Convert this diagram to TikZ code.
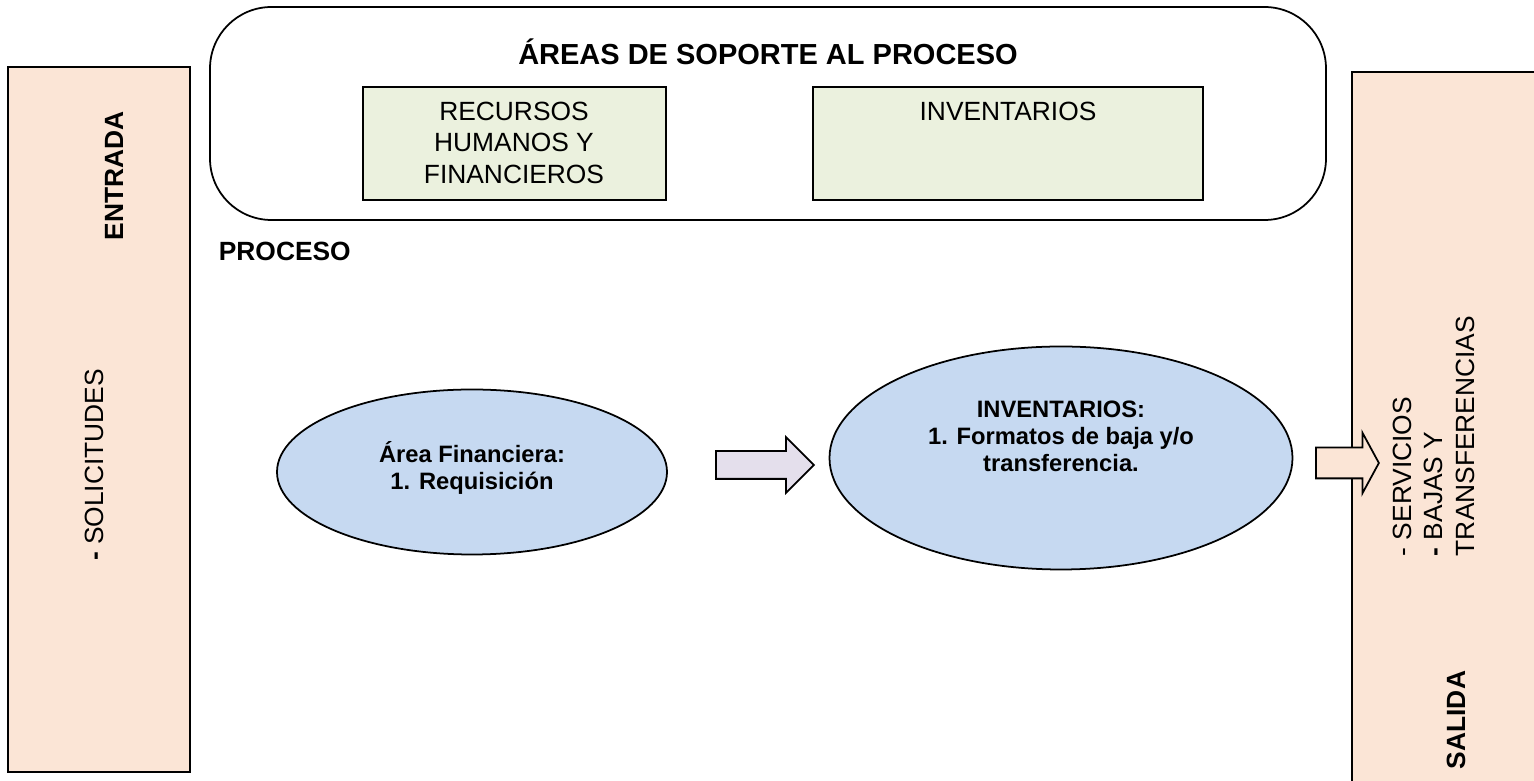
\documentclass[tikz,border=0pt]{standalone}
\usepackage{fontspec}
\setmainfont{Liberation Sans}
\usetikzlibrary{positioning,shapes.geometric,shapes.arrows}
\definecolor{peach}{HTML}{FBE5D6}
\definecolor{lightgreen}{HTML}{EBF1DE}
\definecolor{lightblue}{HTML}{C6D9F1}
\definecolor{lavender}{HTML}{E4DFEC}

\begin{document}
\begin{tikzpicture}[x=0.2mm,y=-0.2mm,line width=1pt,font=\fontsize{15}{18}\selectfont]
  \tikzset{side/.style={draw,fill=peach},
           supp/.style={draw,fill=lightgreen},
           task/.style={ellipse,draw,fill=lightblue},
           tasktext/.style={align=center,inner sep=0pt,font=\fontsize{13.5}{15.5}\selectfont\bfseries},
           flow/.style={single arrow,draw,anchor=tail,inner sep=0pt,text depth=0pt}}
  \useasboundingbox (0,0) rectangle (1534,781);

  %% Entrada
  \draw[side] (8,67) rectangle (190,772);
  \node[rotate=90,font=\fontsize{15}{18}\selectfont\bfseries] (entrada) at (114,176) {ENTRADA};
  \node[rotate=90] (solicitudes) at (94,465) {\textbf{-} SOLICITUDES};

  %% Salida
  \draw[side] (1352,72) rectangle (1540,800);
  \node[rotate=90,align=left,anchor=north west,inner sep=0pt] (servicios) at (1392,557)
    {- SERVICIOS\\\textbf{-} BAJAS Y\\TRANSFERENCIAS};
  \node[rotate=90,font=\fontsize{15}{18}\selectfont\bfseries] (salida) at (1456,720) {SALIDA};

  %% Areas de soporte
  \draw[rounded corners=35] (210,7) rectangle (1326,220);
  \node[font=\fontsize{16.5}{20}\selectfont\bfseries] (titulo) at (768,52) {ÁREAS DE SOPORTE AL PROCESO};
  \draw[supp] (363,87) rectangle (666,200);
  \node[align=center,anchor=north] (recursos) at (514,95) {RECURSOS\\HUMANOS Y\\FINANCIEROS};
  \draw[supp] (813,87) rectangle (1203,200);
  \node[anchor=north] (inventarios) at (1008,95) {INVENTARIOS};

  %% Proceso
  \node[anchor=base west,font=\fontsize{15}{18}\selectfont\bfseries,inner sep=0pt] (proceso) at (218,261) {PROCESO};
  \node[task,minimum width=78mm,minimum height=33mm] (financiera) at (472,472) {};
  \node[tasktext] (financieratxt) at (472,468) {Área Financiera:\\1. Requisición};
  \node[task,minimum width=92.6mm,minimum height=44.6mm] (inv) at (1061,458) {};
  \node[tasktext,anchor=north] (invtxt) at (1061,400) {INVENTARIOS:\\1. Formatos de baja y/o\\transferencia.};

  %% Flechas
  \node[flow,fill=lavender,text height=5.2mm,minimum height=19.6mm,single arrow head extend=2.8mm] (f1) at (715,465) {};
  \node[flow,fill=peach,text height=5.8mm,minimum height=12.6mm,single arrow head extend=3mm,single arrow tip angle=123] (f2) at (1315,463) {};
\end{tikzpicture}
\end{document}
